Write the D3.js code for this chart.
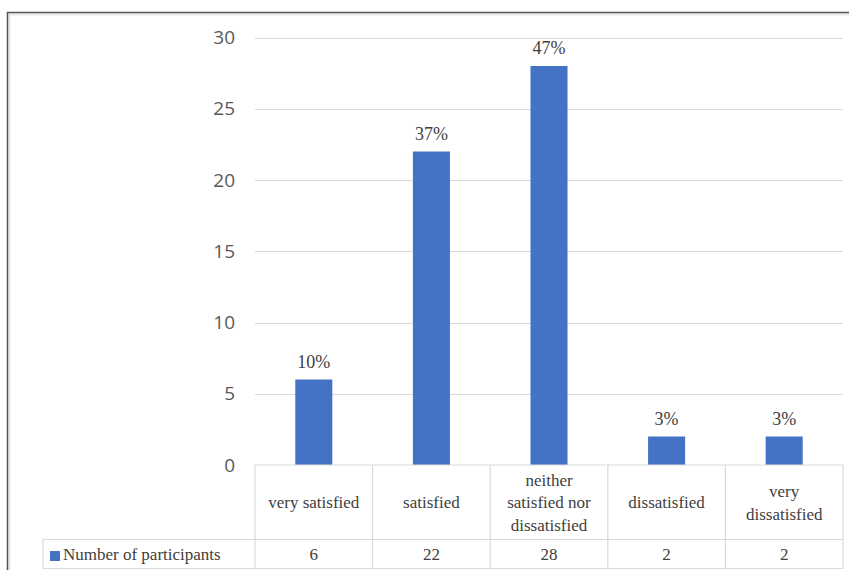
<!DOCTYPE html>
<html><head><meta charset="utf-8"><script src="https://cdn.jsdelivr.net/npm/d3@7"></script></head>
<body style="margin:0"><svg id="chart" width="849" height="570"></svg>
<script>
const categories = ["very satisfied", "satisfied", "neither\nsatisfied nor\ndissatisfied", "dissatisfied", "very\ndissatisfied"];
const values = [6, 22, 28, 2, 2];
const percentLabels = ["10%", "37%", "47%", "3%", "3%"];
const seriesName = "Number of participants";
const yTicks = [0, 5, 10, 15, 20, 25, 30];

const svg = d3.select("#chart");
const W = 849, H = 570;
const plotL = 255, plotR = 843, plotT = 37.5, plotB = 465;
const catRowB = 539.5, dataRowB = 568.5, legendL = 43;
const barColor = "#4472C4";
const gridColor = "#d9d9d9";
const tableFont = 17;
const SERIF = '"Liberation Serif"';
const SANS = '"Open Sans"';
const textColor = "#404040";

// outer frame
svg.append("rect").attr("x", 0).attr("y", 0).attr("width", W).attr("height", H).attr("fill", "#fff");
svg.append("path").attr("d", `M9.5,${H} V14.5 H${W}`).attr("fill", "none").attr("stroke", "#e6e6e6").attr("stroke-width", 2);
svg.append("path").attr("d", `M7.5,${H} V12.5 H${W}`).attr("fill", "none").attr("stroke", "#555").attr("stroke-width", 1.5);

const x = d3.scaleBand().domain(categories).range([plotL, plotR]).padding(0);
const y = d3.scaleLinear().domain([0, 30]).range([plotB, plotT]);

// gridlines
svg.append("g").selectAll("line").data(yTicks.filter(d => d > 0)).join("line")
  .attr("x1", plotL).attr("x2", plotR)
  .attr("y1", d => Math.round(y(d)) + 0.5).attr("y2", d => Math.round(y(d)) + 0.5)
  .attr("stroke", gridColor).attr("stroke-width", 1.2);

// y axis labels
const yAxis = d3.axisLeft(y).tickValues(yTicks).tickSize(0).tickPadding(0);
const gy = svg.append("g").attr("transform", "translate(235,0)").call(yAxis);
gy.select(".domain").remove();
gy.selectAll("text").attr("font-size", 19).style("font-family", SANS).attr("fill", "#595959");

// bars
const barW = x.bandwidth() * 0.315;
svg.append("g").selectAll("rect").data(values).join("rect")
  .attr("x", (d, i) => x(categories[i]) + (x.bandwidth() - barW) / 2)
  .attr("y", d => y(d))
  .attr("width", barW)
  .attr("height", d => y(0) - y(d))
  .attr("fill", barColor);

// data labels
svg.append("g").selectAll("text").data(values).join("text")
  .attr("x", (d, i) => x(categories[i]) + x.bandwidth() / 2)
  .attr("y", d => y(d) - 12)
  .attr("text-anchor", "middle")
  .attr("font-size", 18).style("font-family", SERIF)
  .attr("fill", textColor)
  .text((d, i) => percentLabels[i]);

// data table
const tbl = svg.append("g").attr("stroke", gridColor).attr("stroke-width", 1.2).attr("fill", "none");
tbl.append("line").attr("x1", plotL).attr("x2", plotR).attr("y1", plotB).attr("y2", plotB);
tbl.append("line").attr("x1", legendL).attr("x2", plotR).attr("y1", catRowB).attr("y2", catRowB);
tbl.append("line").attr("x1", legendL).attr("x2", plotR).attr("y1", dataRowB).attr("y2", dataRowB);
tbl.append("line").attr("x1", legendL).attr("x2", legendL).attr("y1", catRowB).attr("y2", dataRowB);
const edges = categories.map(c => x(c)).concat([plotR]);
tbl.selectAll("line.v").data(edges).join("line").attr("class", "v")
  .attr("x1", d => d).attr("x2", d => d).attr("y1", plotB).attr("y2", dataRowB);

// category text
const catG = svg.append("g");
const lh = 22.5;
const midY = (plotB + catRowB) / 2;
categories.forEach((c, i) => {
  const cx = x(c) + x.bandwidth() / 2;
  const lines = c.split("\n");
  lines.forEach((ln, k) => {
    catG.append("text")
      .attr("x", cx)
      .attr("y", midY + (k - (lines.length - 1) / 2) * lh + 6)
      .attr("text-anchor", "middle")
      .attr("font-size", tableFont).style("font-family", SERIF)
      .attr("fill", textColor)
      .text(ln);
  });
});

// values row
svg.append("g").selectAll("text").data(values).join("text")
  .attr("x", (d, i) => x(categories[i]) + x.bandwidth() / 2)
  .attr("y", (catRowB + dataRowB) / 2 + 6)
  .attr("text-anchor", "middle")
  .attr("font-size", tableFont).style("font-family", SERIF)
  .attr("fill", textColor)
  .text(d => d);

// legend key
svg.append("rect").attr("x", 50).attr("y", 551).attr("width", 10).attr("height", 10).attr("fill", barColor);
svg.append("text").attr("x", 63).attr("y", (catRowB + dataRowB) / 2 + 6)
  .attr("font-size", tableFont).style("font-family", SERIF)
  .attr("fill", textColor)
  .text(seriesName);
</script></body></html>
